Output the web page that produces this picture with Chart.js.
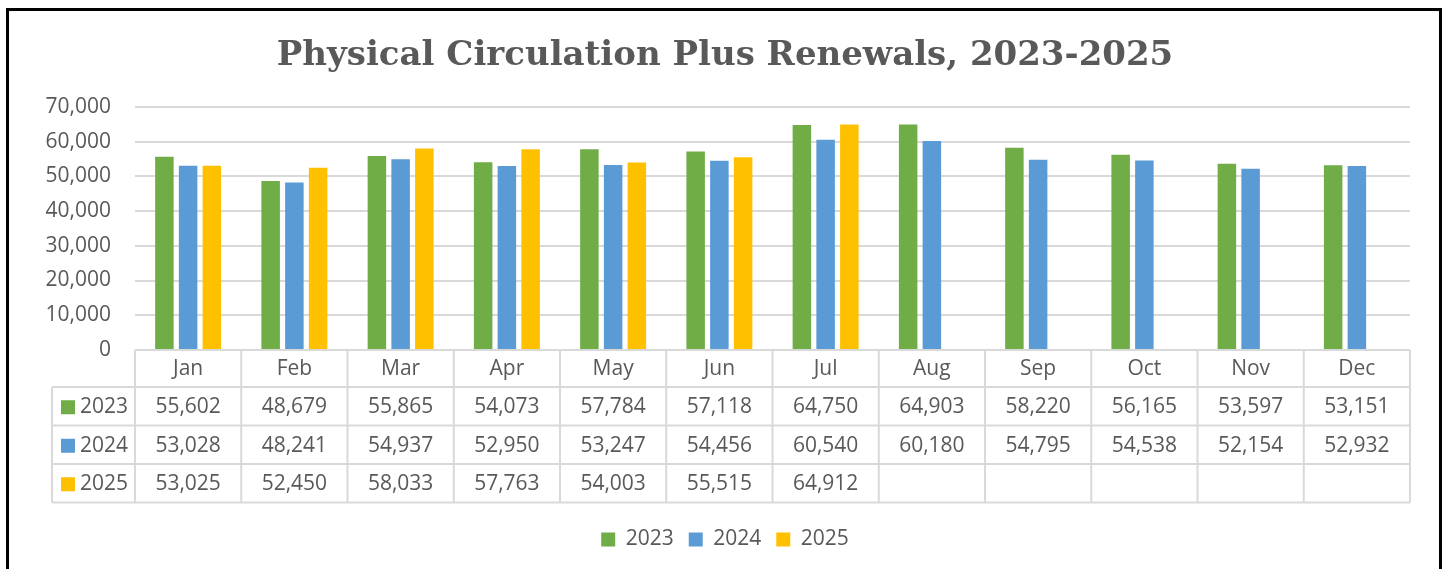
<!DOCTYPE html>
<html>
<head>
<meta charset="utf-8">
<script src="https://cdn.jsdelivr.net/npm/chart.js@4/dist/chart.umd.min.js"></script>
<style>
  body { margin: 0; background: #fff; width: 1450px; height: 569px; overflow: hidden; position: relative; }
  #frame { position: absolute; left: 6px; top: 8px; width: 1430px; height: 600px; border: 3px solid #000; }
  #wrap { position: absolute; left: 0; top: 0; width: 1450px; height: 569px; }
</style>
</head>
<body>
<div id="frame"></div>
<div id="wrap"><canvas id="chart"></canvas></div>
<script>
const months = ["Jan", "Feb", "Mar", "Apr", "May", "Jun", "Jul", "Aug", "Sep", "Oct", "Nov", "Dec"];
const years = ["2023", "2024", "2025"];
const values2023 = [55602, 48679, 55865, 54073, 57784, 57118, 64750, 64903, 58220, 56165, 53597, 53151];
const values2024 = [53028, 48241, 54937, 52950, 53247, 54456, 60540, 60180, 54795, 54538, 52154, 52932];
const values2025 = [53025, 52450, 58033, 57763, 54003, 55515, 64912, null, null, null, null, null];
const colors = ["#70AD47", "#5B9BD5", "#FFC000"];

const textColor = "#595959";
const lineColor = "#D9D9D9";
const bodyFont = "Open Sans";

// data table under the plot, lined up with the category scale
const dataTable = {
    id: "dataTable",
    afterDraw(chart) {
        const ctx = chart.ctx;
        const x = chart.scales.x;
        const area = chart.chartArea;
        const colW = x.width / months.length;
        const top = area.bottom;
        const headH = 37;
        const rowH = 38.5;
        const leftX = 52;
        const series = chart.data.datasets;

        ctx.save();
        ctx.strokeStyle = lineColor;
        ctx.lineWidth = 2;

        // horizontal lines
        ctx.beginPath();
        ctx.moveTo(area.left, top);
        ctx.lineTo(area.right, top);
        for (let r = 0; r <= series.length; r++) {
            const y = top + headH + r * rowH;
            ctx.moveTo(leftX, y);
            ctx.lineTo(area.right, y);
        }
        // vertical lines
        const bottom = top + headH + series.length * rowH;
        ctx.moveTo(leftX, top + headH);
        ctx.lineTo(leftX, bottom);
        for (let i = 0; i <= months.length; i++) {
            const xx = area.left + i * colW;
            ctx.moveTo(xx, top);
            ctx.lineTo(xx, bottom);
        }
        ctx.stroke();

        ctx.fillStyle = textColor;
        ctx.font = "21px '" + bodyFont + "'";
        ctx.textAlign = "center";
        ctx.textBaseline = "middle";
        months.forEach((m, i) => {
            ctx.fillText(m, x.getPixelForValue(i), top + headH / 2 + 1);
        });

        series.forEach((ds, r) => {
            const cy = top + headH + r * rowH + rowH / 2 + 1;
            ctx.fillStyle = ds.backgroundColor;
            ctx.fillRect(leftX + 9, cy - 7, 14, 14);
            ctx.fillStyle = textColor;
            ctx.textAlign = "left";
            ctx.fillText(ds.label, leftX + 28, cy);
            ctx.textAlign = "center";
            ds.data.forEach((v, i) => {
                if (v == null) return;
                ctx.fillText(v.toLocaleString("en-US"), x.getPixelForValue(i), cy);
            });
        });
        ctx.restore();
    }
};

new Chart(document.getElementById("chart"), {
    type: "bar",
    data: {
        labels: months,
        datasets: [
            { label: years[0], data: values2023, backgroundColor: colors[0] },
            { label: years[1], data: values2024, backgroundColor: colors[1] },
            { label: years[2], data: values2025, backgroundColor: colors[2] }
        ]
    },
    options: {
        responsive: true,
        maintainAspectRatio: false,
        animation: false,
        categoryPercentage: 0.67,
        barPercentage: 0.78,
        layout: { padding: { left: 40, right: 40, top: 0, bottom: 9 } },
        plugins: {
            title: {
                display: true,
                text: "Physical Circulation Plus Renewals, 2023-2025",
                color: textColor,
                font: { family: "DejaVu Serif", size: 34, weight: "bold" },
                padding: { top: 36, bottom: 30 }
            },
            legend: {
                position: "bottom",
                labels: {
                    color: textColor,
                    font: { family: bodyFont, size: 21 },
                    boxWidth: 14,
                    boxHeight: 14,
                    padding: 15
                }
            },
            tooltip: { enabled: false }
        },
        scales: {
            x: {
                ticks: { display: false },
                grid: { display: false },
                border: { display: false },
                afterFit(scale) { scale.height = 164; }
            },
            y: {
                min: 0,
                max: 70000,
                ticks: {
                    stepSize: 10000,
                    color: textColor,
                    font: { family: bodyFont, size: 21 },
                    padding: 24,
                    callback: v => v.toLocaleString("en-US")
                },
                grid: { color: lineColor, lineWidth: 2, drawTicks: false },
                border: { display: false },
                afterFit(scale) { scale.width = 95; }
            }
        }
    },
    plugins: [dataTable]
});
</script>
</body>
</html>
